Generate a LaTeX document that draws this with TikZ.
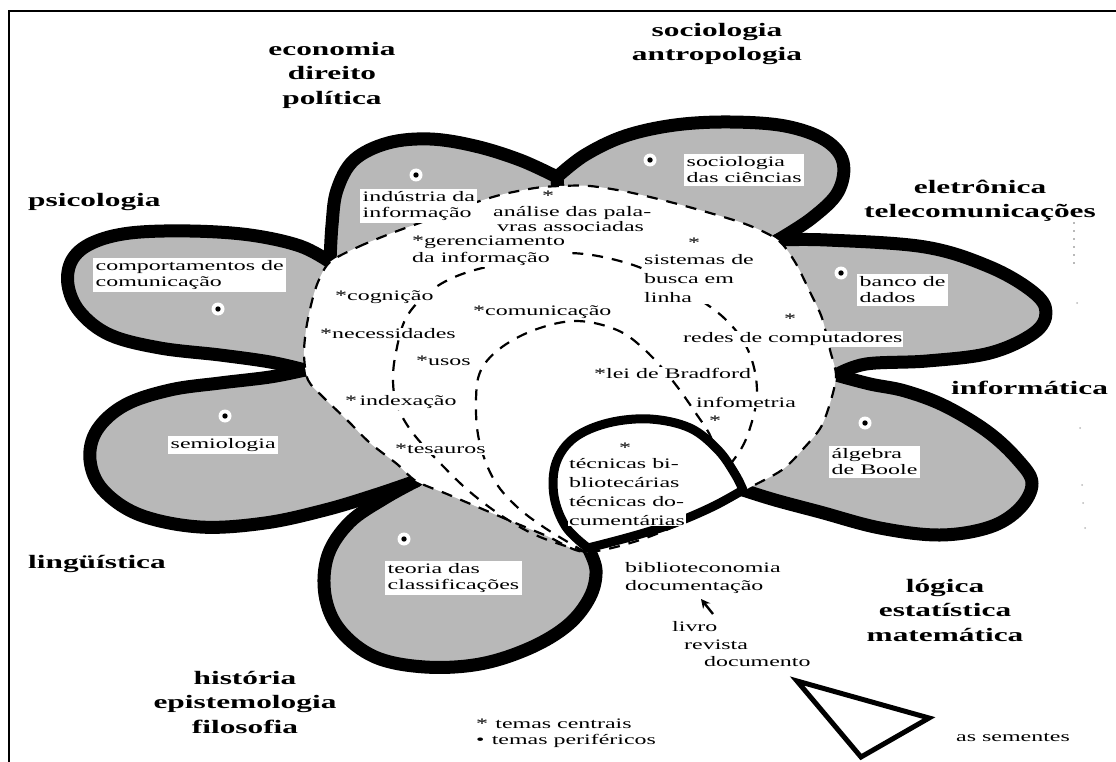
\documentclass[tikz,border=0pt]{standalone}
\usepackage{fontspec}
\setmainfont{Liberation Serif}[FakeStretch=1.65]
\usetikzlibrary{arrows.meta}
\definecolor{stip}{gray}{0.72}
\def\pTL{plot[smooth,tension=0.6] coordinates {(330,262) (332,225) (337,190) (354,160) (388,143) (430,139) (475,146) (520,160) (557,177)} -- (570,370) -- cycle}
\def\pTR{plot[smooth,tension=0.6] coordinates {(557,177) (585,155) (625,136) (675,125) (730,122) (785,126) (825,140) (843,162) (838,192) (812,218) (778,240)} -- (570,370) -- cycle}
\def\pRU{plot[smooth,tension=0.6] coordinates {(778,240) (827,240) (925,247) (990,267) (1033,292) (1046,312) (1034,333) (990,353) (927,361) (866,364) (836,375)} -- (570,370) -- cycle}
\def\pRL{plot[smooth,tension=0.6] coordinates {(836,375) (870,384) (905,391) (945,406) (988,432) (1018,460) (1032,483) (1020,508) (990,527) (940,535) (880,528) (820,512) (775,500) (743,490)} -- (570,370) -- cycle}
\def\pB{plot[smooth,tension=0.6] coordinates {(588,548) (596,570) (590,597) (568,625) (530,648) (480,664) (425,667) (375,657) (340,630) (325,595) (328,555) (350,522) (385,498) (416,481)} -- (570,370) -- cycle}
\def\pLL{plot[smooth,tension=0.6] coordinates {(416,481) (375,495) (325,510) (265,523) (200,527) (140,515) (103,490) (90,460) (97,430) (125,405) (170,390) (220,383) (270,377) (305,370)} -- (570,370) -- cycle}
\def\pLU{plot[smooth,tension=0.6] coordinates {(305,370) (270,362) (220,355) (160,348) (110,335) (80,312) (68,285) (72,260) (92,243) (130,233) (190,231) (250,235) (300,246) (330,262)} -- (570,370) -- cycle}
\def\pW{plot[smooth cycle,tension=0.5] coordinates {(330,262) (358,247) (392,233) (425,221) (465,206) (500,195) (535,188) (560,186) (590,186) (628,192) (670,202) (710,213) (748,225) (778,240) (795,262) (810,292) (822,318) (830,350) (836,375) (831,400) (821,427) (804,448) (782,470) (745,490) (700,515) (640,540) (585,552) (547,536) (513,522) (480,508) (447,494) (416,481) (397,464) (370,443) (347,420) (323,397) (308,380) (304,355) (306,330) (311,305) (318,282)}}
\def\pLoop{plot[smooth,tension=0.6] coordinates {(588,548) (566,527) (554,496) (556,463) (574,438) (608,423) (650,419) (690,428) (718,450) (735,474) (743,490)} -- plot[smooth,tension=0.6] coordinates {(743,490) (712,507) (672,524) (630,537) (588,548)} -- cycle}
\begin{document}
\begin{tikzpicture}[x=1pt,y=-1pt,
  petalfill/.style={fill=stip},
  petalline/.style={draw=black,line width=13pt,line join=round},
  dashline/.style={draw=black,line width=2.2pt,dash pattern=on 11pt off 9pt},
  lab/.style={font=\fontsize{14.5}{16}\selectfont,inner sep=0pt,anchor=west,align=left},
  box/.style={lab,fill=white,inner sep=2.5pt},
  cen/.style={lab,fill=white,inner sep=1pt},
  big/.style={font=\bfseries\fontsize{19}{24.5}\selectfont,inner sep=0pt,align=center},
  star/.style={font=\fontsize{14.5}{16}\selectfont,inner sep=0pt},
  halo/.style={circle,fill=white,inner sep=0pt,minimum size=13pt,path picture={\fill[black] (path picture bounding box.center) circle (2.7pt);}}
]
\useasboundingbox (0,0) rectangle (1116,762);
% frame
\draw[line width=2pt] (9,762) -- (9,11) -- (1116,11);
% petals
\fill[petalfill] \pTL; \fill[petalfill] \pTR; \fill[petalfill] \pRU; \fill[petalfill] \pRL;
\fill[petalfill] \pB; \fill[petalfill] \pLL; \fill[petalfill] \pLU;
\draw[petalline] \pTL; \draw[petalline] \pTR; \draw[petalline] \pRU; \draw[petalline] \pRL;
\draw[petalline] \pB; \draw[petalline] \pLL; \draw[petalline] \pLU;
% central white region
\fill[white] \pW;
\draw[dashline] \pW;
% nested dashed teardrops
\draw[dashline] plot[smooth,tension=0.6] coordinates {(585,552) (540,537) (505,518) (470,492) (440,463) (412,432) (397,405) (393,380) (396,352) (406,318) (428,293) (457,276) (500,264) (567,253) (630,264) (680,288) (723,317) (748,350) (757,390) (750,428) (735,458) (700,495) (640,527) (585,552)};
\draw[dashline] plot[smooth,tension=0.6] coordinates {(585,552) (545,528) (515,505) (493,478) (479,440) (476,400) (481,370) (502,347) (537,329) (577,321) (617,330) (645,350) (672,380) (695,412) (712,440) (715,470) (680,505) (630,530) (585,552)};
% loop
\fill[white] \pLoop;
\draw[line width=9pt,line join=round] \pLoop;
% dots with halos
\node[halo] (h1) at (416,175) {};
\node[halo] (h2) at (650,160) {};
\node[halo] (h3) at (841,273) {};
\node[halo] (h4) at (865,423) {};
\node[halo] (h5) at (404,539) {};
\node[halo] (h6) at (225,416) {};
\node[halo] (h7) at (218,309) {};
% petal labels
\node[box] (ind) at (360,206) {indústria da\\informação};
\node[box] (socc) at (684,170) {sociologia\\das ciências};
\node[box] (ban) at (857,290) {banco de\\dados};
\node[box] (alg) at (829,462) {álgebra\\de Boole};
\node[box] (teo) at (385,578) {teoria das\\classificações};
\node[box] (sem) at (168,445) {semiologia};
\node[box] (comp) at (93,275) {comportamentos de\\comunicação};
% central labels
\node[cen,font=\fontsize{14.5}{12.5}\selectfont] (ana) at (492,219) {análise das pala-\\\hspace*{4pt}vras associadas};
\node[cen,font=\fontsize{14.5}{17}\selectfont] (ger) at (411,251) {*gerenciamento\\da informação};
\node[cen,font=\fontsize{14.5}{19}\selectfont] (sis) at (643,279) {sistemas de\\busca em\\linha};
\node[cen] (cog) at (334,297) {*cognição};
\node[cen] (comu) at (472,312) {*comunicação};
\node[cen] (nec) at (319,334) {*necessidades};
\node[cen] (uso) at (415,361) {*usos};
\node[cen] (idx) at (344,402) {*\,indexação};
\node[cen] (tes) at (394,449) {*tesauros};
\node[cen] (red) at (682,339) {redes de computadores};
\node[cen] (lei) at (593,373) {*lei de Bradford};
\node[cen] (info) at (695,402) {infometria};
\node[cen,font=\fontsize{14.5}{18.7}\selectfont] (tec) at (568,492) {técnicas bi-\\bliotecárias\\técnicas do-\\cumentárias};
\node[star] (s1) at (548,196) {*};
\node[star] (s2) at (694,243) {*};
\node[star] (s3) at (790,319) {*};
\node[star] (s4) at (715,421) {*};
\node[star] (s5) at (625,448) {*};
% outer discipline labels
\node[big] (econ) at (332,75) {economia\\direito\\política};
\node[big] (soc) at (717,44) {sociologia\\antropologia};
\node[big,anchor=west] (psi) at (28,202) {psicologia};
\node[big] (ele) at (980,201) {eletrônica\\telecomunicações};
\node[big,anchor=west] (inf) at (951,388) {informática};
\node[big,anchor=west] (lin) at (28,564) {lingüística};
\node[big] (log) at (945,610) {lógica\\estatística\\matemática};
\node[big] (his) at (245,702) {história\\epistemologia\\filosofia};
% bottom texts
\node[lab,font=\fontsize{14.5}{18.5}\selectfont] (bib) at (625,578) {biblioteconomia\\documentação};
\node[lab] (liv) at (672,627) {livro};
\node[lab] (rev) at (684,645) {revista};
\node[lab] (doc) at (704,662) {documento};
\coordinate (atail) at (713,614);
\coordinate (atip) at (701,599);
\draw[line width=2.4pt,-{Stealth[length=9pt,width=9pt]}] (atail) -- (atip);
% legend
\node[lab] (leg1) at (476,724) {*\enspace temas centrais};
\node[lab] (leg2) at (476,741) {•\enspace temas periféricos};
\draw[line width=5pt,line join=miter] (797,681) -- (929,718) -- (861,757) -- cycle;
\node[lab] (sem2) at (956,737) {as sementes};
% faint scan dots at right
\draw[gray!55,line width=1.2pt,dash pattern=on 2pt off 6pt] (1074,222) -- (1074,266);
\foreach \q in {(1077,303),(1080,428),(1082,485),(1083,503),(1085,528)} \fill[gray!55] \q circle (1pt);
\end{tikzpicture}
\end{document}
